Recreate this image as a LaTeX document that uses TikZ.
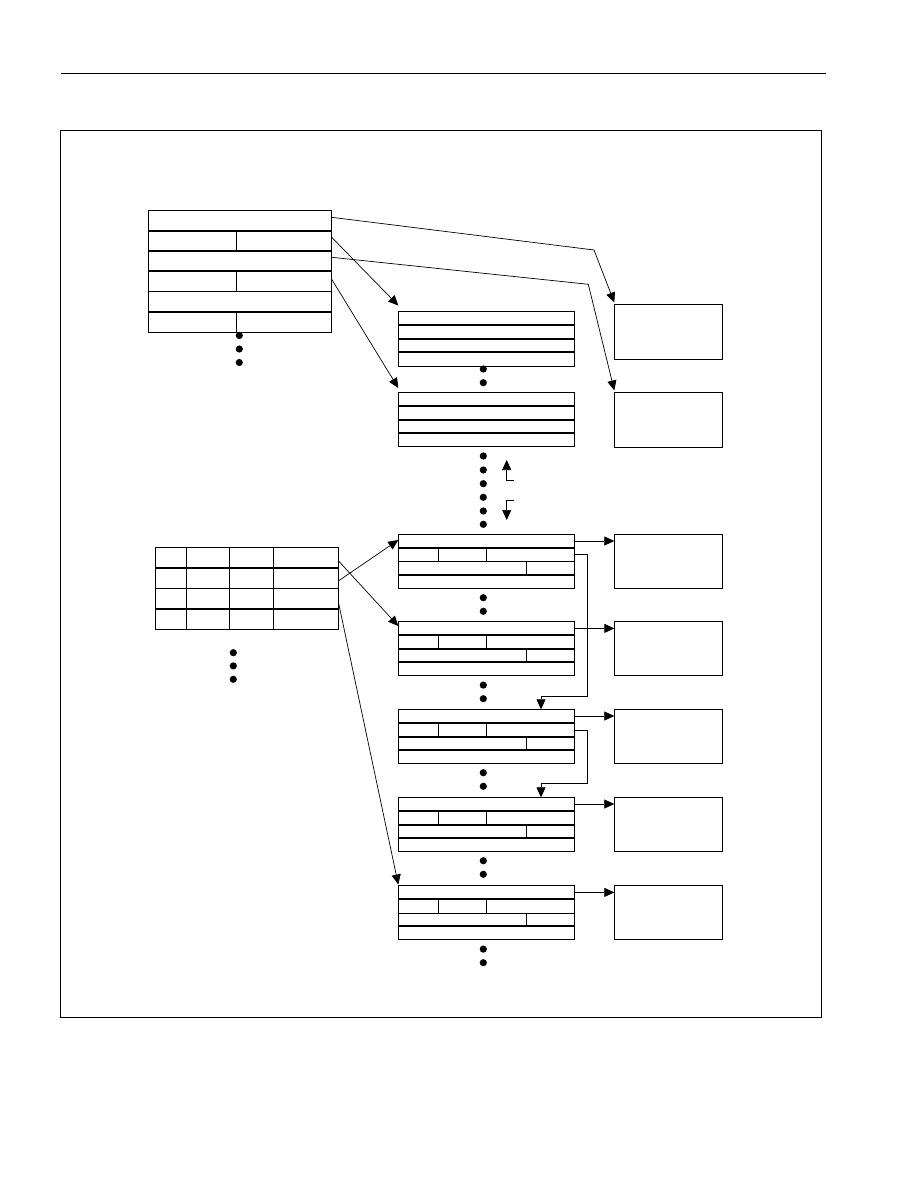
\documentclass[tikz,border=0pt]{standalone}
\usetikzlibrary{arrows.meta}
\begin{document}
\begin{tikzpicture}[x=1pt,y=-1pt,
  box/.style={draw, line width=1pt, inner sep=0pt, outer sep=0pt, anchor=north west},
  sepline/.style={line width=2pt},
  thinline/.style={line width=1pt},
  conn/.style={line width=0.7pt, -{Triangle[length=10pt,width=9pt]}},
  dotmark/.style={fill=black}]
\useasboundingbox (0,0) rectangle (918,1188);
% header rule and frame
\draw[line width=1.2pt] (61,73.3) -- (825.7,73.3);
\node[box, minimum width=760.6pt, minimum height=886.3pt] (frame) at (60.7,130.7) {};

% ---------- top-left table T1 ----------
\node[box, minimum width=183.4pt, minimum height=122.3pt] (t1) at (148.3,210) {};
\foreach \yy in {231,250.7,270.7,311.7} \draw[sepline] (148.3,\yy) -- (331.7,\yy);
\draw[thinline] (148.3,291) -- (331.7,291);
\draw[thinline] (236.3,231) -- (236.3,250.7);
\draw[thinline] (236.3,270.7) -- (236.3,291);
\draw[thinline] (236.3,311.7) -- (236.3,332.3);
\foreach \yy in {335.5,349,362.5} \fill[dotmark] (239.3,\yy) circle[radius=3.6pt];

% ---------- middle boxes M1, M2 ----------
\foreach \nm/\t in {m1/311.7, m2/392.3}{
  \node[box, minimum width=176pt, minimum height=54.6pt] (\nm) at (398.3,\t) {};
  \foreach \d in {13.5,27.3,40.5} \draw[sepline] (398.3,\t+\d) -- (574.3,\t+\d);
}
\foreach \yy in {369,382.7,456,470,483.7,497.3,511,524.3} \fill[dotmark] (483.3,\yy) circle[radius=3.6pt];

% ---------- right boxes R1, R2 ----------
\node[box, minimum width=108pt, minimum height=55pt] (r1) at (614.3,304.3) {};
\node[box, minimum width=108pt, minimum height=54.7pt] (r2) at (614.3,392.3) {};

% ---------- up / down small arrows ----------
\coordinate (upstart) at (514,480.7);
\coordinate (uptip) at (506.7,460);
\coordinate (dnstart) at (514,500.7);
\coordinate (dntip) at (506.7,520);
\draw[conn] (upstart) -- (506.7,480.7) -- (uptip);
\draw[conn] (dnstart) -- (506.7,500.7) -- (dntip);

% ---------- left table T2 ----------
\node[box, minimum width=183.3pt, minimum height=81.3pt] (t2) at (155,547.7) {};
\draw[sepline] (155,567.7) -- (338.3,567.7);
\draw[thinline] (155,588.3) -- (338.3,588.3);
\draw[sepline] (155,608.7) -- (338.3,608.7);
\foreach \xx in {186.3,229.3,273.7} \draw[thinline] (\xx,547.7) -- (\xx,629);
\foreach \yy in {652.7,665.9,679.3} \fill[dotmark] (233.3,\yy) circle[radius=3.6pt];

% ---------- record boxes B1..B5 and right boxes RB1..RB5 ----------
\foreach \i/\t/\mid in {1/534.3/thinline, 2/621.7/sepline, 3/709.3/sepline, 4/797.3/sepline, 5/885.7/thinline}{
  \node[box, minimum width=176pt, minimum height=54pt] (b\i) at (398.3,\t) {};
  \draw[sepline] (398.3,\t+13.7) -- (574.3,\t+13.7);
  \draw[\mid] (398.3,\t+27.3) -- (574.3,\t+27.3);
  \draw[sepline] (398.3,\t+40.7) -- (574.3,\t+40.7);
  \draw[thinline] (438.7,\t+13.7) -- (438.7,\t+27.3);
  \draw[thinline] (486.7,\t+13.7) -- (486.7,\t+27.3);
  \draw[thinline] (526.7,\t+27.3) -- (526.7,\t+40.7);
  \fill[dotmark] (483.3,\t+63.4) circle[radius=3.6pt];
  \fill[dotmark] (483.3,\t+77) circle[radius=3.6pt];
  \node[box, minimum width=108pt, minimum height=54pt] (rb\i) at (614.3,\t) {};
  \coordinate (bout\i) at (574.3,\t+6.7);
  \coordinate (rbin\i) at (614.3,\t+6.7);
  \draw[conn] (bout\i) -- (rbin\i);
}

% ---------- connectors from T1 ----------
\coordinate (t1a) at (331.7,217.3);
\coordinate (t1b) at (331.7,237.3);
\coordinate (t1c) at (331.7,257.3);
\coordinate (t1d) at (331.7,279.3);
\coordinate (m1in) at (398.3,305.5);
\coordinate (m2in) at (398.3,388);
\coordinate (r1in) at (614.3,302.5);
\coordinate (r2in) at (614.3,390.5);
\draw[conn] (t1a) -- (594,250) -- (r1in);
\draw[conn] (t1c) -- (588.3,284.3) -- (r2in);
\draw[conn] (t1b) -- (m1in);
\draw[conn] (t1d) -- (m2in);

% ---------- connectors from T2 ----------
\coordinate (t2a) at (338.3,560.7);
\coordinate (t2b) at (338.3,581);
\coordinate (t2c) at (338.3,601.7);
\coordinate (b1in) at (398.3,540);
\coordinate (b2in) at (398.3,626);
\coordinate (b5in) at (398.3,884.5);
\draw[conn] (t2b) -- (b1in);
\draw[conn] (t2a) -- (b2in);
\draw[conn] (t2c) -- (b5in);

% ---------- elbow connectors ----------
\coordinate (b1link) at (574.3,554.3);
\coordinate (b3top) at (541,709.3);
\coordinate (b3link) at (574.3,730.7);
\coordinate (b4top) at (541,797.3);
\draw[conn] (b1link) -- (587.7,554.3) -- (587.7,696) -- (541,696) -- (b3top);
\draw[conn] (b3link) -- (587.7,730.7) -- (587.7,783.3) -- (541,783.3) -- (b4top);
\end{tikzpicture}
\end{document}
